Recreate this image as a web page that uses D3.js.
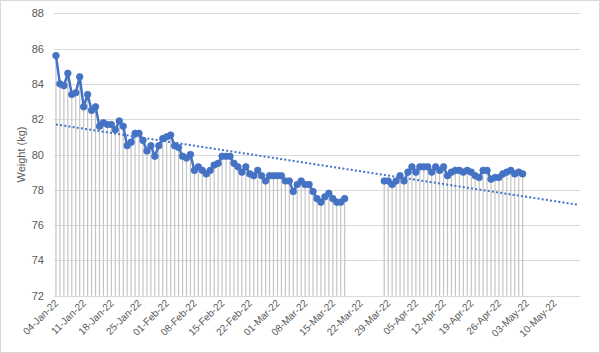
<!DOCTYPE html>
<html>
<head>
<meta charset="utf-8">
<script src="https://cdn.jsdelivr.net/npm/d3@7"></script>
<style>
  html, body { margin: 0; padding: 0; background: #fff; }
  svg { display: block; font-family: "Liberation Sans", Arial, sans-serif; }
</style>
</head>
<body>
<div id="chart"></div>
<script>
// first run of daily weigh-ins (from 04-Jan-22)
const block1Start = "2022-01-04";
const block1Weights = [
  85.6, 84.0, 83.9, 84.6, 83.4, 83.5, 84.4, 82.7, 83.4, 82.5,
  82.7, 81.6, 81.8, 81.7, 81.7, 81.4, 81.9, 81.6, 80.5, 80.7,
  81.2, 81.2, 80.8, 80.2, 80.5, 79.9, 80.5, 80.9, 81.0, 81.1,
  80.5, 80.4, 79.9, 79.8, 80.0, 79.1, 79.3, 79.1, 78.9, 79.1,
  79.4, 79.5, 79.9, 79.9, 79.9, 79.5, 79.3, 79.0, 79.3, 78.9,
  78.8, 79.1, 78.8, 78.5, 78.8, 78.8, 78.8, 78.8, 78.5, 78.5,
  77.9, 78.3, 78.5, 78.3, 78.3, 77.9, 77.5, 77.3, 77.6, 77.8,
  77.5, 77.3, 77.3, 77.5
];
// second run (from 28-Mar-22)
const block2Start = "2022-03-28";
const block2Weights = [
  78.5, 78.5, 78.3, 78.5, 78.8, 78.5, 79.0, 79.3, 79.0, 79.3,
  79.3, 79.3, 79.0, 79.3, 79.1, 79.3, 78.8, 79.0, 79.1, 79.1,
  79.0, 79.1, 79.0, 78.8, 78.7, 79.1, 79.1, 78.6, 78.7, 78.7,
  78.9, 79.0, 79.1, 78.9, 79.0, 78.9
];
const tickLabels = ["04-Jan-22", "11-Jan-22", "18-Jan-22", "25-Jan-22", "01-Feb-22",
  "08-Feb-22", "15-Feb-22", "22-Feb-22", "01-Mar-22", "08-Mar-22", "15-Mar-22",
  "22-Mar-22", "29-Mar-22", "05-Apr-22", "12-Apr-22", "19-Apr-22", "26-Apr-22",
  "03-May-22", "10-May-22"];
const yTicks = [72, 74, 76, 78, 80, 82, 84, 86, 88];
const trendForecastDays = 14;

const W = 600, H = 353;
const margin = {top: 13.3, right: 20, bottom: 57.3, left: 54};
const parse = d3.timeParse("%Y-%m-%d");
const parseTick = d3.timeParse("%d-%b-%y");

const toPoints = (start, vals) => vals.map((v, i) => ({date: d3.timeDay.offset(parse(start), i), value: v}));
const blocks = [toPoints(block1Start, block1Weights), toPoints(block2Start, block2Weights)];
const allPts = blocks.flat();

const t0 = parse(block1Start);
const x = d3.scaleTime()
  .domain([d3.timeHour.offset(t0, -12), d3.timeHour.offset(parseTick("10-May-22"), 6 * 24 + 12)])
  .range([margin.left, W - margin.right]);
const y = d3.scaleLinear().domain([72, 88]).range([H - margin.bottom, margin.top]);

const svg = d3.select("#chart").append("svg").attr("width", W).attr("height", H);
svg.append("rect").attr("x", 0.5).attr("y", 0.5).attr("width", W - 1).attr("height", H - 1)
  .attr("fill", "#fff").attr("stroke", "#d9d9d9");

// gridlines
svg.append("g").selectAll("line").data(yTicks).join("line")
  .attr("x1", margin.left).attr("x2", W - margin.right)
  .attr("y1", d => Math.round(y(d)) + 0.5).attr("y2", d => Math.round(y(d)) + 0.5)
  .attr("stroke", "#d9d9d9").attr("stroke-width", 1);

svg.append("g").selectAll("text").data(yTicks).join("text")
  .attr("x", 44).attr("y", d => y(d) + 4)
  .attr("text-anchor", "end").attr("font-size", 11).attr("fill", "#595959")
  .text(d => d);

svg.append("text")
  .attr("transform", `translate(25,${(margin.top + H - margin.bottom) / 2}) rotate(-90)`)
  .attr("text-anchor", "middle").attr("font-size", 11).attr("fill", "#595959")
  .text("Weight (kg)");

// x tick labels
svg.append("g").selectAll("text").data(tickLabels).join("text")
  .attr("transform", d => `translate(${x(parseTick(d)) + 3},${H - margin.bottom + 8}) rotate(-45)`)
  .attr("text-anchor", "end").attr("font-size", 10).attr("fill", "#595959")
  .text(d => d);

// drop lines
svg.append("g").selectAll("line").data(allPts).join("line")
  .attr("x1", d => x(d.date)).attr("x2", d => x(d.date))
  .attr("y1", d => y(d.value)).attr("y2", y(72))
  .attr("stroke", "#c4c4c4").attr("stroke-width", 1.2);

// trendline (least squares on day number)
const dayNum = d => (d - t0) / 864e5;
const n = allPts.length;
const mx = d3.mean(allPts, d => dayNum(d.date)), my = d3.mean(allPts, d => d.value);
const slope = d3.sum(allPts, d => (dayNum(d.date) - mx) * (d.value - my)) /
  d3.sum(allPts, d => (dayNum(d.date) - mx) ** 2);
const icpt = my - slope * mx;
const lastDay = dayNum(allPts[n - 1].date) + trendForecastDays;
svg.append("line")
  .attr("x1", x(t0)).attr("y1", y(icpt))
  .attr("x2", x(d3.timeDay.offset(t0, lastDay))).attr("y2", y(icpt + slope * lastDay))
  .attr("stroke", "#4472c4").attr("stroke-width", 2).attr("stroke-dasharray", "2,2.2");

// weight line and markers
const line = d3.line().x(d => x(d.date)).y(d => y(d.value));
svg.append("g").selectAll("path").data(blocks).join("path")
  .attr("d", line).attr("fill", "none").attr("stroke", "#4472c4")
  .attr("stroke-width", 2.5).attr("stroke-linejoin", "round");

svg.append("g").selectAll("circle").data(allPts).join("circle")
  .attr("cx", d => x(d.date)).attr("cy", d => y(d.value)).attr("r", 3.3)
  .attr("fill", "#4472c4").attr("stroke", "#4472c4").attr("stroke-width", 0.75);
</script>
</body>
</html>
